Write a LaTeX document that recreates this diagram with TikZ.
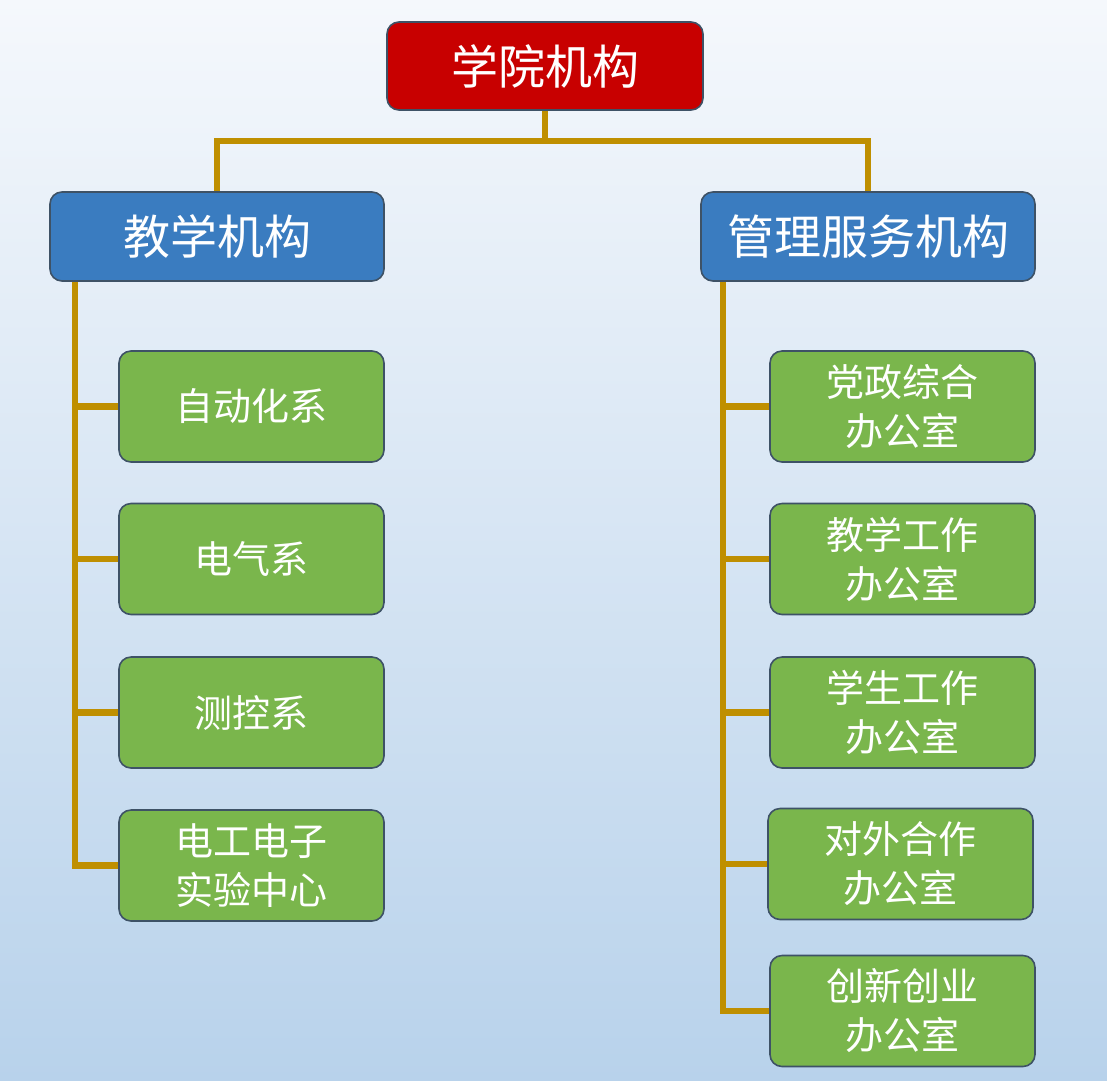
\documentclass[tikz,border=0pt]{standalone}
\usepackage{fontspec}
\newfontfamily\cjk{Noto Sans CJK SC}
\definecolor{bgtop}{HTML}{F5F8FC}
\definecolor{bgbot}{HTML}{B8D2EB}
\definecolor{redbox}{HTML}{C80000}
\definecolor{bluebox}{HTML}{3A7CC0}
\definecolor{greenbox}{HTML}{7AB64C}
\definecolor{edgecol}{HTML}{3E5266}
\definecolor{linkcol}{HTML}{BF8F00}
\pgfdeclarelayer{bgshade}
\pgfdeclarelayer{links}
\pgfsetlayers{bgshade,links,main}
\tikzset{
  box/.style={draw=edgecol, line width=1.6pt, rounded corners=12pt, text=white, align=center, inner sep=0pt},
  redstyle/.style={box, fill=redbox, minimum width=316pt, minimum height=88pt, font=\cjk\fontsize{47}{50}\selectfont},
  bluestyle/.style={box, fill=bluebox, minimum width=334pt, minimum height=89pt, font=\cjk\fontsize{47}{50}\selectfont},
  greenstyle/.style={box, fill=greenbox, minimum width=265pt, minimum height=111pt, font=\cjk\fontsize{38}{49}\selectfont},
  link/.style={draw=linkcol, line width=6.5pt}
}
\begin{document}
\begin{tikzpicture}[x=1pt,y=-1pt]
\begin{pgfonlayer}{bgshade}
\shade[top color=bgtop, bottom color=bgbot] (0,0) rectangle (1107,1080);
\end{pgfonlayer}
\useasboundingbox (0,0) rectangle (1107,1080);

\node[redstyle] (top) at (545,66) {学院机构};
\node[bluestyle] (teach) at (217,236.5) {教学机构};
\node[bluestyle] (mgmt) at (868,236.5) {管理服务机构};

\node[greenstyle] (g1) at (251.5,406.5) {自动化系};
\node[greenstyle] (g2) at (251.5,559) {电气系};
\node[greenstyle] (g3) at (251.5,712.5) {测控系};
\node[greenstyle] (g4) at (251.5,865.5) {电工电子\\实验中心};

\node[greenstyle] (m1) at (902.5,406.5) {党政综合\\办公室};
\node[greenstyle] (m2) at (902.5,559) {教学工作\\办公室};
\node[greenstyle] (m3) at (902.5,712.5) {学生工作\\办公室};
\node[greenstyle] (m4) at (900.5,864) {对外合作\\办公室};
\node[greenstyle] (m5) at (902.5,1011) {创新创业\\办公室};

\coordinate (hub) at (545,141);
\coordinate (tL) at (75,281);
\coordinate (tR) at (723,281);

\begin{pgfonlayer}{links}
\draw[link] (top.south) -- (hub);
\draw[link] (hub) -| (teach.north);
\draw[link] (hub) -| (mgmt.north);
\draw[link] (tL) |- (g4.west);
\draw[link] (g1.west -| tL) -- (g1.west);
\draw[link] (g2.west -| tL) -- (g2.west);
\draw[link] (g3.west -| tL) -- (g3.west);
\draw[link] (tR) |- (m5.west);
\draw[link] (m1.west -| tR) -- (m1.west);
\draw[link] (m2.west -| tR) -- (m2.west);
\draw[link] (m3.west -| tR) -- (m3.west);
\draw[link] (m4.west -| tR) -- (m4.west);
\end{pgfonlayer}
\end{tikzpicture}
\end{document}
